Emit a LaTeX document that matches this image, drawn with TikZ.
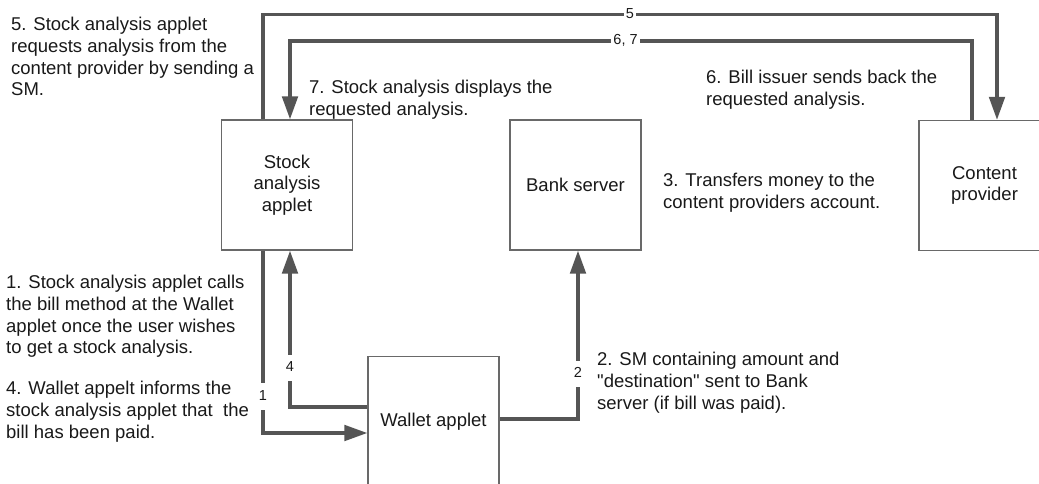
\documentclass[tikz,border=0pt]{standalone}
\usepackage{fontspec}
\setmainfont{Liberation Sans}[Ligatures=TeXOff]
\usetikzlibrary{arrows.meta}
\definecolor{linkgray}{RGB}{85,85,85}
\definecolor{framegray}{RGB}{105,105,105}
\definecolor{inkblack}{RGB}{25,25,25}
\tikzset{
  unit/.style={draw=framegray, line width=1.3pt, fill=white, minimum width=131pt,
    minimum height=130pt, inner sep=0pt, align=center, text=inkblack,
    font=\fontsize{18.5}{21.7}\selectfont},
  link/.style={draw=linkgray, line width=3.5pt,
    -{Triangle[length=23pt,width=15.5pt]}},
  tag/.style={fill=white, text=inkblack, inner xsep=2pt, inner ysep=7pt,
    text height=10pt, text depth=2.5pt, font=\fontsize{14.5}{16}\selectfont},
  note/.style={anchor=north west, inner sep=0pt, align=left, text=inkblack,
    font=\fontsize{18.5}{21.7}\selectfont}
}
\begin{document}
\begin{tikzpicture}[x=1pt,y=-1pt]
\useasboundingbox (0,0) rectangle (1039,483);
\clip (0,0) rectangle (1039,483);

% the four parties
\node[unit] (stock)   at (287,185)   {Stock\\analysis\\applet};
\node[unit] (bank)    at (575.5,185) {Bank server};
\node[unit] (content) at (984.5,185.5) {Content\\provider};
\node[unit] (wallet)  at (433.5,421.5) {Wallet applet};

% message flows
\draw[link] ([xshift=-24pt]stock.north) -- ++(0,-105)
  -| node[tag, pos=0.25] (m5) {5} ([xshift=12.5pt]content.north);
\draw[link] ([xshift=-12.5pt]content.north) -- ++(0,-79)
  -| node[tag, pos=0.254] (m67) {6, 7} ([xshift=3pt]stock.north);
\draw[link] ([xshift=-24pt]stock.south)
  |- node[tag, pos=0.4] (m1) {1} ([yshift=-11.5pt]wallet.west);
\draw[link] ([yshift=14.5pt]wallet.west)
  -| node[tag, pos=0.624] (m4) {4} ([xshift=3pt]stock.south);
\draw[link] ([yshift=2.5pt]wallet.east)
  -| node[tag, pos=0.633] (m2) {2} ([xshift=2.5pt]bank.south);

% step descriptions
\node[note] (d5) at (11,17.2) {5. Stock analysis applet\\requests analysis from the\\content provider by sending a\\SM.};
\node[note] (d7) at (309,80.2) {7. Stock analysis displays the\\requested analysis.};
\node[note] (d6) at (706,70.2) {6. Bill issuer sends back the\\requested analysis.};
\node[note] (d3) at (663,173.2) {3. Transfers money to the\\content providers account.};
\node[note] (d1) at (6,275) {1. Stock analysis applet calls\\the bill method at the Wallet\\applet once the user wishes\\to get a stock analysis.};
\node[note] (d4) at (6,381.2) {4. Wallet appelt informs the\\stock analysis applet that~ the\\bill has been paid.};
\node[note] (d2) at (597,352.2) {2. SM containing amount and\\"destination" sent to Bank\\server (if bill was paid).};
\end{tikzpicture}
\end{document}
